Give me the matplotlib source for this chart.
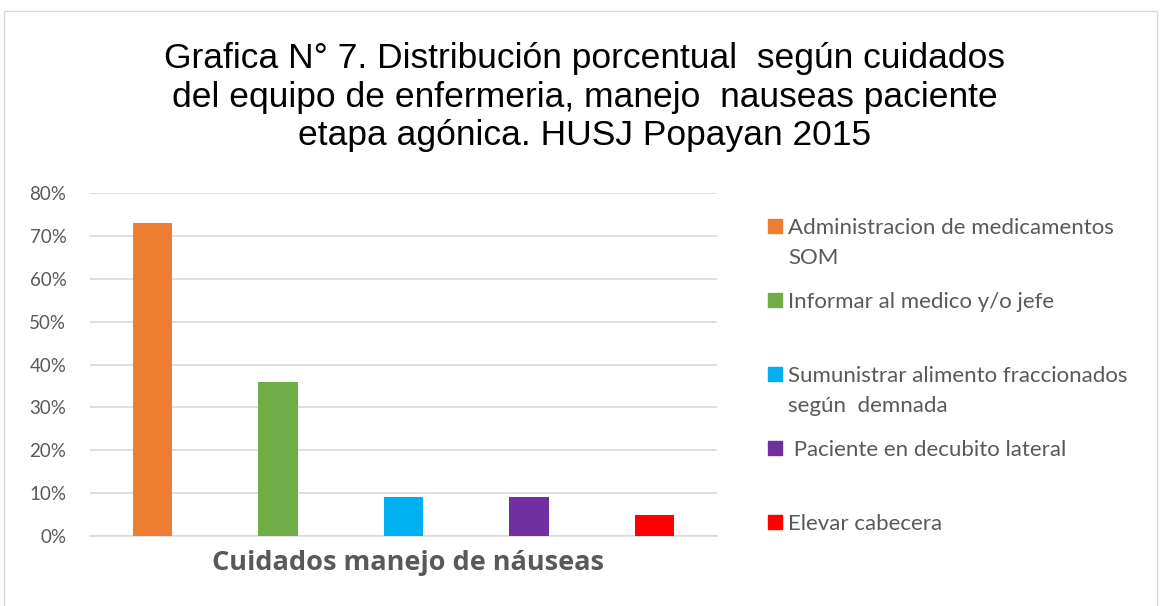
import matplotlib.pyplot as plt
from matplotlib.patches import Rectangle
from matplotlib.ticker import PercentFormatter

# datos de la grafica
cuidados = ['Administracion de medicamentos\nSOM',
            'Informar al medico y/o jefe',
            'Sumunistrar alimento fraccionados\nsegún  demnada',
            ' Paciente en decubito lateral',
            'Elevar cabecera']
porcentajes = [0.73, 0.36, 0.09, 0.09, 0.05]
colores = ['#ED7D31', '#70AD47', '#00B0F0', '#7030A0', '#FF0000']
yticks = [0, 0.1, 0.2, 0.3, 0.4, 0.5, 0.6, 0.7, 0.8]

W, H = 1160, 606
gris = '#595959'

fig = plt.figure(figsize=(W / 100, H / 100), dpi=100)
fig.patches.append(Rectangle((4 / W, -0.01), 1153 / W, 1 - 11 / H + 0.01,
                             transform=fig.transFigure, fill=False,
                             edgecolor='#d9d9d9', linewidth=1))

ax = fig.add_axes([90 / W, 1 - 536 / H, 627 / W, 343 / H])
pos = list(range(len(cuidados)))
ax.bar(pos, porcentajes, width=0.315, color=colores, zorder=3)
ax.set_xlim(-0.5, 4.5)
ax.set_ylim(0, 0.8)
ax.set_yticks(yticks)
ax.yaxis.set_major_formatter(PercentFormatter(1.0, decimals=0))
ax.set_xticks([])
ax.grid(axis='y', color='#d9d9d9', linewidth=1.2, zorder=0)
for s in ['top', 'right', 'left']:
    ax.spines[s].set_visible(False)
ax.spines['bottom'].set_color('#d9d9d9')
ax.spines['bottom'].set_linewidth(1.2)
ax.tick_params(axis='y', length=0, pad=17, labelsize=13.5, labelcolor=gris)
for t in ax.get_yticklabels():
    t.set_fontfamily('Lato')

# titulo del eje x
fig.text(408 / W, 1 - 570 / H, 'Cuidados manejo de náuseas', ha='center',
         va='baseline', fontsize=19.5, fontweight='bold', color=gris,
         family='Open Sans')

fig.text(585 / W, 1 - 97 / H,
         'Grafica N° 7. Distribución porcentual  según cuidados\n'
         'del equipo de enfermeria, manejo  nauseas paciente\n'
         'etapa agónica. HUSJ Popayan 2015',
         ha='center', va='center', fontsize=25.5, family='Liberation Sans',
         linespacing=1.2)

# leyenda a mano
for i, (lab, c) in enumerate(zip(cuidados, colores)):
    y = 226 + 74 * i
    fig.patches.append(Rectangle((768 / W, 1 - (y + 7) / H), 14 / W, 14 / H,
                                 transform=fig.transFigure, color=c))
    for j, linea in enumerate(lab.split('\n')):
        fig.text(788 / W, 1 - (y + 30 * j) / H, linea, ha='left',
                 va='center_baseline', fontsize=16, family='Lato', color=gris)

plt.savefig('out.png', dpi=100)
